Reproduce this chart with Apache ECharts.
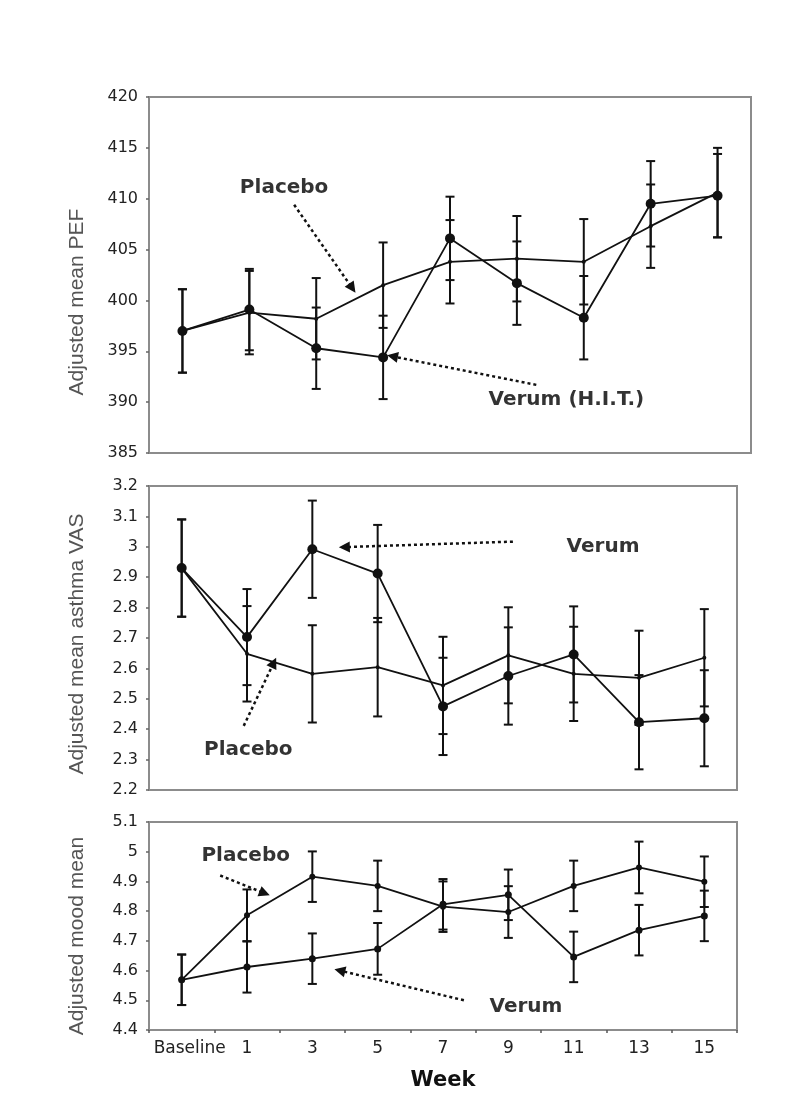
<!DOCTYPE html>
<html>
<head>
<meta charset="utf-8">
<script src="https://cdn.jsdelivr.net/npm/echarts@6/dist/echarts.min.js"></script>
<style>
html,body{margin:0;padding:0;background:#fff;}
#c{width:797px;height:1111px;}
</style>
</head>
<body>
<div id="c"></div>
<script>
// ---------- DATA ----------
const categories = ['Baseline', '1', '3', '5', '7', '9', '11', '13', '15'];

// Panel 1: Adjusted mean PEF
const pefPlacebo    = [397.0, 398.8, 398.2, 401.5, 403.8, 404.1, 403.8, 407.3, 410.6];
const pefPlaceboErr = [4.1, 4.1, 4.0, 4.2, 4.1, 4.2, 4.2, 4.1, 4.4];
const pefVerum      = [397.0, 399.1, 395.3, 394.4, 406.1, 401.7, 398.3, 409.5, 410.3];
const pefVerumErr   = [4.1, 4.0, 4.0, 4.1, 4.1, 4.1, 4.1, 4.2, 4.1];

// Panel 2: Adjusted mean asthma VAS
const vasPlacebo    = [2.93, 2.648, 2.582, 2.604, 2.544, 2.643, 2.582, 2.569, 2.635];
const vasPlaceboErr = [0.16, 0.157, 0.16, 0.162, 0.16, 0.158, 0.155, 0.155, 0.16];
const vasVerum      = [2.93, 2.703, 2.992, 2.912, 2.475, 2.575, 2.646, 2.423, 2.436];
const vasVerumErr   = [0.16, 0.158, 0.16, 0.16, 0.16, 0.16, 0.158, 0.155, 0.158];

// Panel 3: Adjusted mood mean
const moodPlacebo    = [4.569, 4.786, 4.916, 4.885, 4.815, 4.797, 4.885, 4.947, 4.899];
const moodPlaceboErr = [0.085, 0.087, 0.085, 0.085, 0.085, 0.087, 0.085, 0.087, 0.085];
const moodVerum      = [4.569, 4.612, 4.640, 4.673, 4.823, 4.855, 4.646, 4.736, 4.784];
const moodVerumErr   = [0.085, 0.086, 0.085, 0.087, 0.085, 0.085, 0.085, 0.085, 0.085];

// Y axis ranges (min, max, interval)
const pefAxis  = [385, 420, 5];
const vasAxis  = [2.2, 3.2, 0.1];
const moodAxis = [4.4, 5.1, 0.1];

const axisTitles = ['Adjusted mean PEF', 'Adjusted mean asthma VAS', 'Adjusted mood mean'];
const xTitle = 'Week';

// Annotations in data space: [text, labelX, labelY, arrowFromX, arrowFromY, arrowToX, arrowToY]
const pefNotes  = [['Placebo', 1.52, 411.05, 1.67, 409.4, 2.54, 401.2],
                   ['Verum (H.I.T.)', 5.74, 390.2, 5.29, 391.7, 3.14, 394.5]];
const vasNotes  = [['Verum', 6.45, 3.0, 5.07, 3.017, 2.49, 2.999],
                   ['Placebo', 1.02, 2.331, 0.95, 2.411, 1.41, 2.619]];
const moodNotes = [['Placebo', 0.98, 4.986, 0.59, 4.92, 1.27, 4.86],
                   ['Verum', 5.27, 4.477, 4.32, 4.50, 2.42, 4.60]];

// ---------- CHART ----------
const INK = '#111';
const FRAME = '#8c8c8c';
const chart = echarts.init(document.getElementById('c'), null, {renderer: 'canvas'});

const grids = [
  {left: 149, right: 46, top: 97, height: 356},
  {left: 149, right: 60, top: 486, height: 304},
  {left: 149, right: 60, top: 822, height: 208}
].map(g => Object.assign({show: true, borderColor: FRAME, borderWidth: 2, backgroundColor: 'transparent'}, g));

const xAxes = [];
[0, 1, 2].forEach(i => {
  const isBottom = i === 2;
  xAxes.push({
    type: 'category', gridIndex: i, data: categories, boundaryGap: true,
    axisLine: {show: true, onZero: false, lineStyle: {color: FRAME, width: 2}},
    axisTick: {show: isBottom, interval: 0, length: 3, lineStyle: {color: '#555', width: 1.5}},
    axisLabel: {
      show: isBottom, interval: 0, margin: 10, fontFamily: 'DejaVu Sans', fontSize: 17, color: '#222',
      formatter: v => v === 'Baseline' ? '{b|Baseline}' : v,
      rich: {b: {fontFamily: 'DejaVu Sans', fontSize: 17, color: '#222', padding: [0, 0, 0, 16]}}
    },
    splitLine: {show: false},
    name: isBottom ? xTitle : '', nameLocation: 'middle', nameGap: 40,
    nameTextStyle: {fontFamily: 'DejaVu Sans', fontWeight: 'bold', fontSize: 21, color: INK}
  });
});
[0, 1, 2].forEach(i => {
  xAxes.push({type: 'value', gridIndex: i, min: -0.5, max: 8.5, show: false});
});

const yRanges = [pefAxis, vasAxis, moodAxis];
const yAxes = yRanges.map((r, i) => ({
  type: 'value', gridIndex: i, min: r[0], max: r[1], interval: r[2],
  axisLine: {show: true, onZero: false, lineStyle: {color: FRAME, width: 2}},
  axisTick: {show: true, length: 3, lineStyle: {color: '#666', width: 1.5}},
  axisLabel: {margin: 11, fontFamily: 'DejaVu Sans', fontSize: 16, color: '#222',
              formatter: v => String(Math.round(v * 10) / 10)},
  splitLine: {show: false}
}));

function errRender(params, api) {
  const x = api.value(0);
  const p1 = api.coord([x, api.value(1)]);
  const p2 = api.coord([x, api.value(2)]);
  const w = 4.5;
  const st = {stroke: INK, lineWidth: 2};
  return {type: 'group', children: [
    {type: 'line', shape: {x1: p1[0], y1: p1[1], x2: p2[0], y2: p2[1]}, style: st},
    {type: 'line', shape: {x1: p1[0] - w, y1: p1[1], x2: p1[0] + w, y2: p1[1]}, style: st},
    {type: 'line', shape: {x1: p2[0] - w, y1: p2[1], x2: p2[0] + w, y2: p2[1]}, style: st}
  ]};
}

function errData(vals, errs) {
  return vals.map((v, i) => [i, v - errs[i], v + errs[i]]);
}

const series = [];
function addPanel(gi, plc, plcErr, ver, verErr, notes, verSize, plcSize) {
  series.push({type: 'custom', xAxisIndex: gi, yAxisIndex: gi, renderItem: errRender,
               data: errData(plc, plcErr), encode: {x: 0, y: [1, 2]}, z: 2, silent: true});
  series.push({type: 'custom', xAxisIndex: gi, yAxisIndex: gi, renderItem: errRender,
               data: errData(ver, verErr), encode: {x: 0, y: [1, 2]}, z: 2, silent: true});
  series.push({type: 'line', xAxisIndex: gi, yAxisIndex: gi, data: plc,
               symbol: 'circle', symbolSize: plcSize, showAllSymbol: true,
               lineStyle: {color: INK, width: 1.8}, itemStyle: {color: INK}, z: 3, silent: true});
  series.push({type: 'line', xAxisIndex: gi, yAxisIndex: gi, data: ver,
               symbol: 'circle', symbolSize: verSize, showAllSymbol: true,
               lineStyle: {color: INK, width: 1.8}, itemStyle: {color: INK}, z: 4, silent: true});
  series.push({
    type: 'scatter', xAxisIndex: gi + 3, yAxisIndex: gi, symbolSize: 1,
    itemStyle: {color: 'rgba(0,0,0,0)'}, silent: true, z: 5,
    data: notes.map(n => ({value: [n[1], n[2]], name: n[0]})),
    label: {show: true, position: 'inside', formatter: p => p.name,
            fontFamily: 'DejaVu Sans', fontWeight: 'bold', fontSize: 20, color: '#000',
            textBorderWidth: 0},
    markLine: {
      silent: true, animation: false,
      symbol: ['none', 'triangle'], symbolSize: 11,
      label: {show: false},
      itemStyle: {color: INK},
      lineStyle: {color: INK, width: 2.5, type: [3, 3]},
      emphasis: {disabled: true},
      data: notes.map(n => [{coord: [n[3], n[4]]}, {coord: [n[5], n[6]]}])
    }
  });
}
addPanel(0, pefPlacebo, pefPlaceboErr, pefVerum, pefVerumErr, pefNotes, 10, 4);
addPanel(1, vasPlacebo, vasPlaceboErr, vasVerum, vasVerumErr, vasNotes, 10, 4);
addPanel(2, moodPlacebo, moodPlaceboErr, moodVerum, moodVerumErr, moodNotes, 7, 6);

// rotated y-axis titles
const titleY = [302, 644, 936];
const graphic = axisTitles.map((t, i) => ({
  type: 'text', x: 77, y: titleY[i], rotation: Math.PI / 2,
  style: {text: t, fontFamily: 'Liberation Sans', fontSize: 21, fill: '#555',
          textAlign: 'center', textVerticalAlign: 'middle'}
}));

chart.setOption({
  animation: false,
  backgroundColor: '#fff',
  grid: grids,
  xAxis: xAxes,
  yAxis: yAxes,
  series: series,
  graphic: graphic
});
</script>
</body>
</html>
